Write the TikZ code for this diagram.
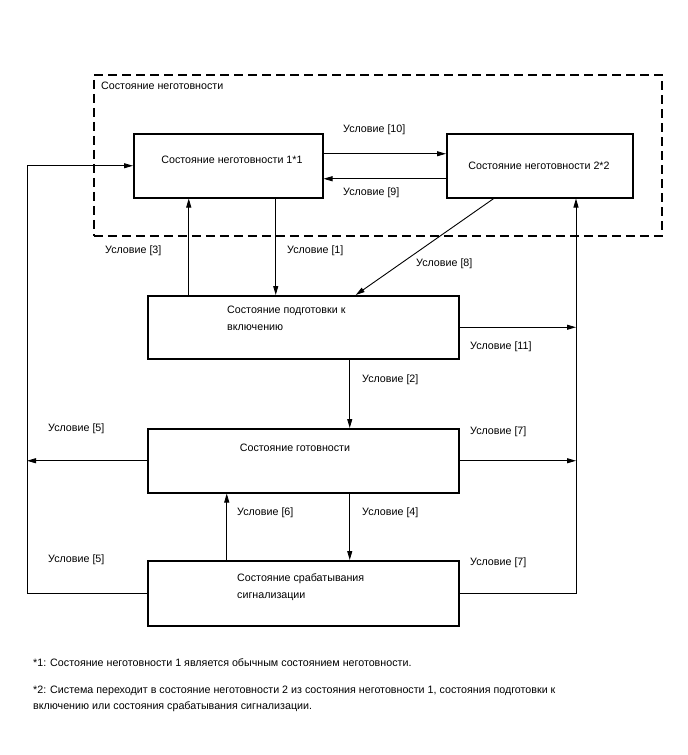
\documentclass[tikz,border=0pt]{standalone}
\usepackage{fontspec}
\setmainfont{Liberation Sans}
\usetikzlibrary{arrows.meta,positioning}

\begin{document}
\begin{tikzpicture}[x=1pt, y=-1pt,
    state/.style={rectangle, draw=black, line width=1.5pt, anchor=north west, inner sep=0pt},
    group/.style={rectangle, draw=black, line width=1.5pt, dash pattern=on 9pt off 5pt,
                  anchor=north west, inner sep=0pt},
    txt/.style={font=\fontsize{10.7}{17}\selectfont, inner sep=0pt, align=left},
    cond/.style={font=\fontsize{10.7}{12}\selectfont, inner sep=0pt, anchor=west},
    arrow/.style={-{Triangle[length=9pt,width=5pt]}, line width=0.9pt},
    link/.style={line width=0.9pt}
]
\useasboundingbox (0,0) rectangle (688,755);

% group of not-ready states
\node[group, minimum width=568pt, minimum height=161pt] (notready) at (93,74) {};
\node[txt, anchor=west] (notreadylbl) at (101,86) {Состояние неготовности};

% states
\node[state, minimum width=189pt, minimum height=64pt] (notready1) at (133,133) {};
\node[state, minimum width=186pt, minimum height=64pt] (notready2) at (446,133) {};
\node[state, minimum width=311pt, minimum height=63pt] (prep) at (147,295) {};
\node[state, minimum width=311pt, minimum height=64pt] (ready) at (147,428) {};
\node[state, minimum width=311pt, minimum height=65pt] (alarm) at (147,560) {};

\node[txt] (notready1txt) at (232,160) {Состояние неготовности 1*1};
\node[txt] (notready2txt) at (539,166) {Состояние неготовности 2*2};
\node[txt, anchor=north west] (preptxt) at (227,306) {Состояние подготовки к\\включению};
\node[txt] (readytxt) at (295,448) {Состояние готовности};
\node[txt, anchor=north west] (alarmtxt) at (237,573) {Состояние срабатывания\\сигнализации};

% rails
\coordinate (leftrail) at (27,0);
\coordinate (rightrail) at (576,0);

% connectors
\draw[arrow] ([yshift=12pt]notready1.east) -- ([yshift=12pt]notready2.west);
\draw[arrow] ([yshift=-13pt]notready2.west) -- ([yshift=-13pt]notready1.east);
\draw[arrow] ([xshift=47.5pt]notready1.south) -- ([xshift=47.5pt]notready1.south |- prep.north);
\draw[arrow] ([xshift=-39.5pt]notready1.south |- prep.north) -- ([xshift=-39.5pt]notready1.south);
\draw[arrow] ([xshift=-46pt]notready2.south) -- ([xshift=52.5pt]prep.north);
\draw[arrow] (prep.east) -- (prep.east -| rightrail);
\draw[arrow] ([xshift=46.5pt]prep.south) -- ([xshift=46.5pt]prep.south |- ready.north);
\draw[arrow] ([xshift=46.5pt]ready.south) -- ([xshift=46.5pt]ready.south |- alarm.north);
\draw[arrow] ([xshift=-76.5pt]ready.south |- alarm.north) -- ([xshift=-76.5pt]ready.south);
\draw[arrow] (ready.west) -- (ready.west -| leftrail);
\draw[arrow] (ready.east) -- (ready.east -| rightrail);
\draw[arrow] (alarm.west) -- (alarm.west -| leftrail) -- (notready1.west -| leftrail) -- (notready1.west);
\draw[arrow] (alarm.east) -- (alarm.east -| rightrail) -- (notready2.south -| rightrail);

% conditions
\node[cond] (c10) at (343,130) {Условие [10]};
\node[cond] (c9) at (343,193) {Условие [9]};
\node[cond] (c3) at (105,251) {Условие [3]};
\node[cond] (c1) at (287,251) {Условие [1]};
\node[cond] (c8) at (416,264) {Условие [8]};
\node[cond] (c11) at (470,347) {Условие [11]};
\node[cond] (c2) at (362,380) {Условие [2]};
\node[cond] (c5a) at (48,429) {Условие [5]};
\node[cond] (c7a) at (470,432) {Условие [7]};
\node[cond] (c6) at (237,513) {Условие [6]};
\node[cond] (c4) at (362,513) {Условие [4]};
\node[cond] (c5b) at (48,560) {Условие [5]};
\node[cond] (c7b) at (470,563) {Условие [7]};

% notes
\node[txt, anchor=west] (note1) at (33,663) {*1: Состояние неготовности 1 является обычным состоянием неготовности.};
\node[txt, anchor=north west, font=\fontsize{10.7}{16}\selectfont] (note2) at (33,686)
    {*2: Система переходит в состояние неготовности 2 из состояния неготовности 1, состояния подготовки к\\включению или состояния срабатывания сигнализации.};
\end{tikzpicture}
\end{document}
